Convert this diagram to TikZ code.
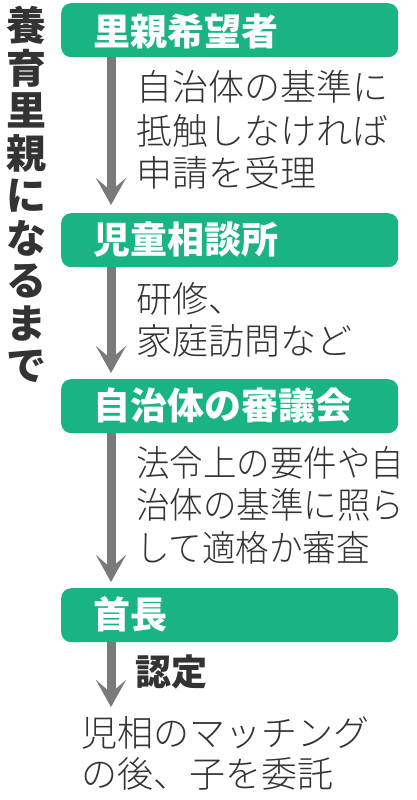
\documentclass[tikz,border=0pt]{standalone}
\usepackage{fontspec}
\usetikzlibrary{arrows.meta}
\newfontfamily\jp{Noto Sans CJK JP}
\newfontfamily\jplight{Noto Sans CJK JP Light}
\newfontfamily\jpcond[FakeStretch=0.93]{Noto Sans CJK JP Light}
\newfontfamily\jpblack{Noto Sans CJK JP Black}
\definecolor{boxgreen}{RGB}{26,179,131}
\definecolor{arrowgray}{RGB}{122,122,122}
\definecolor{textgray}{RGB}{51,51,51}
\begin{document}
\begin{tikzpicture}[x=1pt,y=-1pt,
  stagebox/.style={fill=boxgreen, draw=none, rounded corners=10pt, inner sep=0pt,
    minimum width=337pt, minimum height=54pt, anchor=north west},
  stagelabel/.style={anchor=base west, inner sep=0pt, text=white,
    font=\jp\bfseries\fontsize{37}{37}\selectfont},
  desc/.style={anchor=base west, inner sep=0pt, text=textgray,
    font=\jplight\fontsize{36}{36}\selectfont},
  desccond/.style={anchor=base west, inner sep=0pt, text=textgray,
    font=\jpcond\fontsize{36}{36}\selectfont},
  titlechar/.style={anchor=base, inner sep=0pt, text=textgray,
    font=\jpblack\fontsize{40}{40}\selectfont},
  flowarrow/.style={draw=arrowgray, line width=9pt,
    -{Stealth[length=27pt, width=30pt, inset=13pt, fill=arrowgray]}}]
\useasboundingbox (0,0) rectangle (416,800);
% title
\foreach \c [count=\i] in {養,育,里,親,に,な,る,ま,で}{
  \node[titlechar] (title\i) at (26,{26+(\i-1)*42.5+14.8}) {\c};
}
% boxes
\node[stagebox] (b1) at (61,3) {};
\node[stagebox] (b2) at (61,213) {};
\node[stagebox] (b3) at (61,379) {};
\node[stagebox] (b4) at (61,588) {};
\node[stagelabel] (l1) at (93,45.7) {里親希望者};
\node[stagelabel] (l2) at (93,253.7) {児童相談所};
\node[stagelabel] (l3) at (93,419.2) {自治体の審議会};
\node[stagelabel] (l4) at (93,628) {首長};
% arrows
\coordinate (t1) at (111,205);
\coordinate (t2) at (111,373);
\coordinate (t3) at (111,582);
\coordinate (t4) at (111,707);
\draw[flowarrow] (b1.south -| t1) -- (t1);
\draw[flowarrow] (b2.south -| t2) -- (t2);
\draw[flowarrow] (b3.south -| t3) -- (t3);
\draw[flowarrow] (b4.south -| t4) -- (t4);
% descriptions
\node[desc] (d1a) at (136,100.3) {自治体の基準に};
\node[desc] (d1b) at (136,144.3) {抵触しなければ};
\node[desc] (d1c) at (136,186.3) {申請を受理};
\node[desc] (d2a) at (136,312.3) {研修、};
\node[desc] (d2b) at (136,354.3) {家庭訪問など};
\node[desccond] (d3a) at (136,476.3) {法令上の要件や自};
\node[desccond] (d3b) at (136,518.3) {治体の基準に照ら};
\node[desccond] (d3c) at (136,561.3) {して適格か審査};
\node[desc, font=\jp\bfseries\fontsize{36}{36}\selectfont] (d4) at (135,685.3) {認定};
\node[desc] (e1) at (81,746.3) {児相のマッチング};
\node[desc] (e2) at (81,787.3) {の後、子を委託};
\end{tikzpicture}
\end{document}
